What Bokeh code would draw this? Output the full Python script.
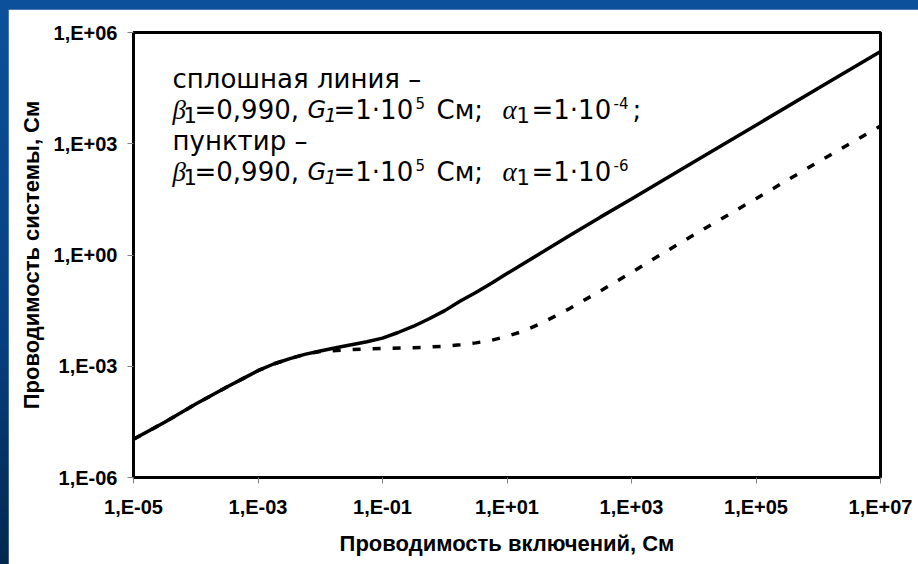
from bokeh.plotting import figure
from bokeh.models import Label, FixedTicker, CustomJSTickFormatter
from bokeh.embed import file_html
from bokeh.resources import INLINE

# Solid curve: beta1 = 0.990, G1 = 1e5 S, alpha1 = 1e-4
g_incl_solid = [1e-05, 3.16e-05, 1e-04, 3.16e-04, 5.62e-04, 1e-03, 1.78e-03, 3.16e-03,
                5.62e-03, 1e-02, 1.78e-02, 3.16e-02, 5.62e-02, 0.1, 0.178, 0.316, 0.562,
                1.0, 1.78, 3.16, 5.62, 10.0, 31.6, 100.0, 316.0, 1e3, 1e4, 1e5, 1e6, 1e7]
g_sys_solid = [1.07e-05, 3.09e-05, 9.55e-05, 2.75e-04, 4.57e-04, 7.59e-04, 1.15e-03, 1.58e-03,
               2.09e-03, 2.57e-03, 3.16e-03, 3.80e-03, 4.57e-03, 5.75e-03, 8.13e-03, 1.20e-02,
               1.91e-02, 3.16e-02, 5.75e-02, 9.77e-02, 0.174, 0.316, 1.02, 3.31, 10.5, 32.4,
               324.0, 3.16e3, 3.16e4, 3.09e5]

# Dotted curve: beta1 = 0.990, G1 = 1e5 S, alpha1 = 1e-6
g_incl_dash = [1e-05, 3.16e-05, 1e-04, 3.16e-04, 5.62e-04, 1e-03, 1.78e-03, 3.16e-03,
               5.62e-03, 1e-02, 3.16e-02, 0.1, 0.316, 1.0, 1.78, 3.16, 5.62, 10.0, 17.8,
               31.6, 56.2, 100.0, 316.0, 1e3, 3.16e3, 1e4, 1e5, 1e6, 1e7]
g_sys_dash = [1.07e-05, 3.09e-05, 9.55e-05, 2.75e-04, 4.57e-04, 7.59e-04, 1.15e-03, 1.58e-03,
              2.09e-03, 2.51e-03, 2.82e-03, 3.02e-03, 3.16e-03, 3.47e-03, 3.80e-03, 4.27e-03,
              5.01e-03, 6.46e-03, 8.71e-03, 1.32e-02, 2.14e-02, 3.55e-02, 0.107, 0.339, 1.10,
              3.47, 33.1, 324.0, 3.02e3]

x_ticks = [1e-05, 1e-03, 1e-01, 1e01, 1e03, 1e05, 1e07]
x_tick_labels = ["1,E-05", "1,E-03", "1,E-01", "1,E+01", "1,E+03", "1,E+05", "1,E+07"]
y_ticks = [1e-06, 1e-03, 1e00, 1e03, 1e06]
y_tick_labels = ["1,E-06", "1,E-03", "1,E+00", "1,E+03", "1,E+06"]

x_title = "Проводимость включений, См"
y_title = "Проводимость системы, См"

p = figure(width=910, height=555, x_axis_type="log", y_axis_type="log",
           x_range=(1e-05, 1e07), y_range=(1e-06, 1e06),
           output_backend="svg", toolbar_location=None,
           min_border_left=125, min_border_right=38, min_border_top=23, min_border_bottom=87)
p.background_fill_color = "white"
p.border_fill_color = "white"
p.outline_line_color = "black"
p.outline_line_width = 3
p.grid.visible = False


def tick_formatter(values, labels):
    return CustomJSTickFormatter(args=dict(tick_values=values, tick_labels=labels), code="""
        for (let i = 0; i < tick_values.length; i++) {
            if (Math.abs(Math.log10(tick_values[i]) - Math.log10(tick)) < 1e-6) return tick_labels[i];
        }
        return "";
    """)


p.xaxis.ticker = FixedTicker(ticks=x_ticks)
p.yaxis.ticker = FixedTicker(ticks=y_ticks)
p.xaxis.formatter = tick_formatter(x_ticks, x_tick_labels)
p.yaxis.formatter = tick_formatter(y_ticks, y_tick_labels)
p.xaxis.axis_label = x_title
p.yaxis.axis_label = y_title

for ax in (p.xaxis[0], p.yaxis[0]):
    ax.axis_line_color = None
    ax.major_tick_line_color = "#808080"
    ax.major_tick_line_width = 1
    ax.major_tick_out = 6
    ax.major_tick_in = 0
    ax.minor_tick_line_color = None
    ax.major_label_text_font = "Liberation Sans"
    ax.major_label_text_font_style = "bold"
    ax.major_label_text_font_size = "20px"
    ax.major_label_text_color = "black"
    ax.axis_label_text_font = "Liberation Sans"
    ax.axis_label_text_font_style = "bold"
    ax.axis_label_text_font_size = "22px"
    ax.axis_label_text_color = "black"

p.xaxis.major_label_standoff = 12
p.xaxis.axis_label_standoff = 10
p.yaxis.major_label_standoff = 10
p.yaxis.axis_label_standoff = 7

p.line(g_incl_solid, g_sys_solid, line_color="black", line_width=3.5)
p.line(g_incl_dash, g_sys_dash, line_color="black", line_width=3.5, line_dash="8 12")

SANS = "DejaVu Sans"
SERIF = "Liberation Serif"


def text(s, x, y, size=26, font=SANS, style="normal"):
    p.add_layout(Label(x=x, y=y, x_units="screen", y_units="screen", text=s,
                       text_font=font, text_font_size=f"{size}px", text_font_style=style,
                       text_color="black", text_baseline="alphabetic", text_align="left"))


def params_line(y, exponent, tail):
    text("β", 39, y, 27, SERIF, "italic")
    text("1", 50, y - 5, 21)
    text("=0,990,", 61, y)
    text("G", 174, y, 24, SANS, "italic")
    text("1", 191, y - 5, 19, SANS, "italic")
    text("=1·10", 200, y)
    text("5", 282, y + 7, 15)
    text("См;", 303, y)
    text("α", 369, y, 27, SERIF, "italic")
    text("1", 383, y - 5, 21)
    text("=1·10", 398, y)
    text(exponent, 480, y + 7, 15)
    if tail:
        text(tail, 499, y)


text("сплошная линия –", 39, 399)
params_line(368, "-4", ";")
text("пунктир –", 39, 337)
params_line(306, "-6", "")

page_style = ("<style>html,body{margin:0;padding:0;}"
              "body{padding:9px 0 0 8px;box-sizing:border-box;height:564px;"
              "background:linear-gradient(to bottom,#0c509b 0%,#063f7f 60%,#01284f 100%);}"
              "</style></head>")
html = file_html(p, INLINE)
html = html.replace("</head>", page_style, 1)
open("out.html", "w").write(html)
